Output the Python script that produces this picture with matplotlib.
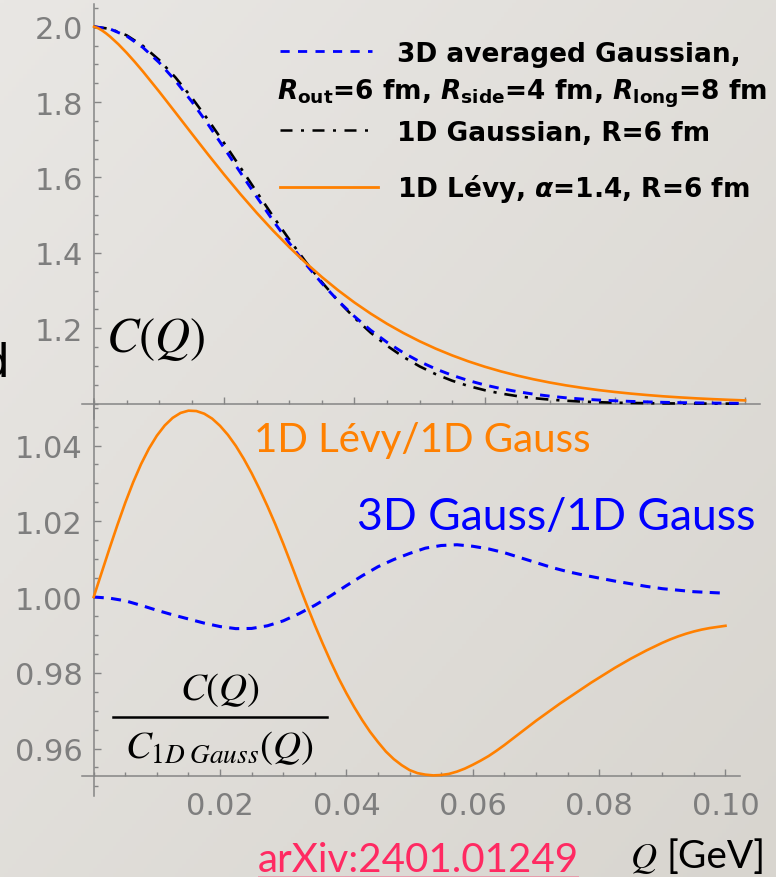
import numpy as np
import matplotlib
matplotlib.use("Agg")
import matplotlib.pyplot as plt
from matplotlib.lines import Line2D
from matplotlib.ticker import FixedLocator, MultipleLocator

plt.rcParams['font.family'] = ['DejaVu Sans']
plt.rcParams['mathtext.fontset'] = 'custom'
plt.rcParams['mathtext.rm'] = 'DejaVu Sans:bold'
plt.rcParams['mathtext.bf'] = 'DejaVu Sans:bold'
plt.rcParams['mathtext.it'] = 'DejaVu Sans:italic:bold'

# ---------------- data ----------------
Q = [0.0, 0.0025, 0.005, 0.0075, 0.01, 0.0125, 0.015, 0.0175, 0.02, 0.0225,
     0.025, 0.0275, 0.03, 0.0325, 0.035, 0.0375, 0.04, 0.0425, 0.045, 0.0475,
     0.05, 0.0525, 0.055, 0.0575, 0.06, 0.0625, 0.065, 0.0675, 0.07, 0.0725,
     0.075, 0.0775, 0.08, 0.0825, 0.085, 0.0875, 0.09, 0.0925, 0.095, 0.0975, 0.1]

C_3d_avg_gauss = [2.0000, 1.9936, 1.9752, 1.9450, 1.9050, 1.8567, 1.8017, 1.7413, 1.6777, 1.6127,
                  1.5482, 1.4856, 1.4261, 1.3706, 1.3193, 1.2729, 1.2315, 1.1949, 1.1630, 1.1353,
                  1.1118, 1.0921, 1.0754, 1.0615, 1.0497, 1.0401, 1.0321, 1.0254, 1.0200, 1.0156,
                  1.0123, 1.0097, 1.0077, 1.0061, 1.0048, 1.0036, 1.0028, 1.0022, 1.0016, 1.0014, 1.0011]

C_1d_gauss = [2.0000, 1.9942, 1.9772, 1.9493, 1.9117, 1.8655, 1.8122, 1.7534, 1.6909, 1.6262,
              1.5612, 1.4970, 1.4352, 1.3766, 1.3222, 1.2725, 1.2278, 1.1883, 1.1538, 1.1242,
              1.0991, 1.0782, 1.0610, 1.0470, 1.0359, 1.0270, 1.0201, 1.0148, 1.0108, 1.0078,
              1.0055, 1.0039, 1.0027, 1.0019, 1.0013, 1.0008, 1.0006, 1.0004, 1.0002, 1.0002, 1.0001]

Q_levy = [0.0, 0.000625, 0.00125, 0.001875, 0.0025, 0.00375, 0.005, 0.00625, 0.0075, 0.01,
          0.0125, 0.015, 0.0175, 0.02, 0.0225, 0.025, 0.0275, 0.03, 0.0325, 0.035,
          0.0375, 0.04, 0.0425, 0.045, 0.0475, 0.05, 0.0525, 0.055, 0.0575, 0.06,
          0.0625, 0.065, 0.0675, 0.07, 0.0725, 0.075, 0.0775, 0.08, 0.0825, 0.085,
          0.0875, 0.09, 0.0925, 0.095, 0.0975, 0.1]

C_1d_levy = [2.0000, 1.9961, 1.9898, 1.9820, 1.9732, 1.9533, 1.9309, 1.9068, 1.8814, 1.8279,
             1.7725, 1.7167, 1.6614, 1.6075, 1.5556, 1.5060, 1.4591, 1.4151, 1.3740, 1.3359,
             1.3007, 1.2684, 1.2389, 1.2120, 1.1877, 1.1657, 1.1459, 1.1282, 1.1123, 1.0982,
             1.0857, 1.0746, 1.0648, 1.0562, 1.0486, 1.0420, 1.0361, 1.0311, 1.0267, 1.0229,
             1.0195, 1.0167, 1.0142, 1.0121, 1.0103, 1.0087]

ratio_3d = [1.0000, 0.9997, 0.9990, 0.9978, 0.9965, 0.9953, 0.9942, 0.9931, 0.9922, 0.99165,
            0.9917, 0.9924, 0.9937, 0.9956, 0.9978, 1.0003, 1.0030, 1.0056, 1.0080, 1.0099,
            1.0115, 1.0129, 1.0136, 1.0138, 1.0134, 1.0127, 1.0117, 1.0104, 1.0091, 1.0078,
            1.0067, 1.0058, 1.0050, 1.0042, 1.0035, 1.0028, 1.0022, 1.0018, 1.0014, 1.0012, 1.0010]

Q_fine = [0.0, 0.00125, 0.0025, 0.00375, 0.005, 0.00625, 0.0075, 0.00875, 0.01, 0.01125,
          0.0125, 0.01375, 0.015, 0.01625, 0.0175, 0.01875, 0.02, 0.02125, 0.0225, 0.02375,
          0.025, 0.02625, 0.0275, 0.02875, 0.03, 0.03125, 0.0325, 0.03375, 0.035, 0.03625,
          0.0375, 0.03875, 0.04, 0.04125, 0.0425, 0.04375, 0.045, 0.04625, 0.0475, 0.04875,
          0.05, 0.05125, 0.0525, 0.05375, 0.055, 0.05625, 0.0575, 0.05875, 0.06, 0.06125,
          0.0625, 0.06375, 0.065, 0.06625, 0.0675, 0.06875, 0.07, 0.07125, 0.0725, 0.07375,
          0.075, 0.07625, 0.0775, 0.07875, 0.08, 0.08125, 0.0825, 0.08375, 0.085, 0.08625,
          0.0875, 0.08875, 0.09, 0.09125, 0.0925, 0.09375, 0.095, 0.09625, 0.0975, 0.09875, 0.1]

ratio_levy = [1.0000, 1.0064, 1.0128, 1.0190, 1.0249, 1.0303, 1.0351, 1.0392, 1.0426, 1.0453,
              1.0473, 1.0486, 1.0492, 1.0491, 1.0484, 1.0471, 1.0452, 1.0428, 1.0399, 1.0365,
              1.0327, 1.0285, 1.0240, 1.0192, 1.0141, 1.0087, 1.0032, 0.9978, 0.9926, 0.9877,
              0.9830, 0.9786, 0.9746, 0.9709, 0.9675, 0.9644, 0.9617, 0.9592, 0.9572, 0.9556,
              0.9543, 0.9535, 0.9531, 0.9529, 0.9530, 0.9533, 0.9539, 0.9547, 0.9557, 0.9568,
              0.9580, 0.9594, 0.9609, 0.9625, 0.9641, 0.9657, 0.9673, 0.9688, 0.9703, 0.9718,
              0.9732, 0.9746, 0.9760, 0.9774, 0.9787, 0.9800, 0.9813, 0.9825, 0.9837, 0.9848,
              0.9859, 0.9869, 0.9879, 0.9888, 0.9896, 0.9903, 0.9909, 0.9914, 0.9918, 0.9921, 0.9924]

top_yticks = [1.2, 1.4, 1.6, 1.8, 2.0]
top_yticklabels = ['1.2', '1.4', '1.6', '1.8', '2.0']
bot_yticks = [0.96, 0.98, 1.00, 1.02, 1.04]
bot_yticklabels = ['0.96', '0.98', '1.00', '1.02', '1.04']
xticks = [0.02, 0.04, 0.06, 0.08, 0.10]
xticklabels = ['0.02', '0.04', '0.06', '0.08', '0.10']

# ---------------- figure ----------------
W, H = 776, 878
fig = plt.figure(figsize=(W / 100, H / 100), dpi=100)

def fx(p):
    return p / W

def fy(p):
    return 1 - p / H

# background gradient (slide)
bg = fig.add_axes([0, 0, 1, 1], zorder=-10)
gy, gx = np.mgrid[0:1:200j, 0:1:200j]
t = (gx + gy) / 2
c0 = np.array([233, 231, 228]) / 255
c1 = np.array([216, 213, 207]) / 255
img = c0[None, None, :] * (1 - t[..., None]) + c1[None, None, :] * t[..., None]
bg.imshow(img, extent=[0, 1, 0, 1], aspect='auto', origin='upper')
bg.axis('off')

BLUE = '#0000ff'
ORANGE = '#ff8000'
SPINE = '#858585'
TICKLAB = '#7e7e7e'

ax1 = fig.add_axes([fx(82), fy(420), 678 / W, 415 / H])
ax2 = fig.add_axes([fx(82), fy(797), 658 / W, 397 / H])

for ax, ylim, yb in [(ax1, (0.9594, 2.0602), 1.0), (ax2, (0.94746, 1.05228), 0.95274)]:
    ax.set_facecolor('none')
    ax.set_xlim(-0.00185, 0.1023)
    ax.set_ylim(*ylim)
    ax.spines['top'].set_visible(False)
    ax.spines['right'].set_visible(False)
    ax.spines['left'].set_position(('data', 0))
    ax.spines['bottom'].set_position(('data', yb))
    for s in ('left', 'bottom'):
        ax.spines[s].set_color(SPINE)
        ax.spines[s].set_linewidth(1.1)
    ax.xaxis.set_major_locator(FixedLocator(xticks))
    ax.xaxis.set_minor_locator(MultipleLocator(0.005))
    ax.tick_params(which='both', direction='in', color=SPINE, width=1.0)
    ax.tick_params(which='major', length=5)
    ax.tick_params(which='minor', length=3)
    ax.tick_params(axis='both', labelsize=22, labelcolor=TICKLAB)
    ax.tick_params(axis='y', pad=8)
    ax.tick_params(axis='x', pad=11)

ax1.set_xticklabels([])
ax1.yaxis.set_major_locator(FixedLocator(top_yticks))
ax1.yaxis.set_minor_locator(MultipleLocator(0.05))
ax1.set_yticklabels(top_yticklabels)

ax2.set_xticklabels(xticklabels)
ax2.yaxis.set_major_locator(FixedLocator(bot_yticks))
ax2.yaxis.set_minor_locator(MultipleLocator(0.005))
ax2.set_yticklabels(bot_yticklabels)

# top panel curves
ax1.plot(Q, C_1d_gauss, color='black', lw=1.9, dashes=(4.8, 3.0, 1.2, 3.0), zorder=3)
ax1.plot(Q, C_3d_avg_gauss, color=BLUE, lw=2.1, dashes=(3.3, 2.6), zorder=4)
ax1.plot(Q_levy, C_1d_levy, color=ORANGE, lw=1.9, zorder=5, solid_joinstyle='round')

# bottom panel curves
ax2.plot(Q, ratio_3d, color=BLUE, lw=2.2, dashes=(3.3, 2.4), zorder=3)
ax2.plot(Q_fine, ratio_levy, color=ORANGE, lw=1.9, zorder=4, solid_joinstyle='round')

# ---------------- legend (manual) ----------------
def leg_line(y, x0, x1, **kw):
    fig.add_artist(Line2D([fx(x0), fx(x1)], [fy(y), fy(y)], **kw))

leg_line(52, 280, 372, color=BLUE, lw=2.0, dashes=(3.3, 3.0))
leg_line(131, 280, 370, color='black', lw=1.8, dashes=(4.8, 3.4, 1.2, 3.4))
leg_line(188, 280, 378, color=ORANGE, lw=2.0)

legkw = dict(fontsize=19, fontweight='bold', color='black', va='baseline', ha='left')
fig.text(fx(397), fy(62), '3D averaged Gaussian,', **legkw)
fig.text(fx(277), fy(100),
         r'$R_{\mathrm{out}}$=6 fm, $R_{\mathrm{side}}$=4 fm, $R_{\mathrm{long}}$=8 fm', **legkw)
fig.text(fx(397), fy(141), '1D Gaussian, R=6 fm', **legkw)
fig.text(fx(397), fy(197), r'1D Lévy, $\alpha$=1.4, R=6 fm', **legkw)

# ---------------- annotations ----------------
fig.text(fx(106), fy(352), r'$C(Q)$', math_fontfamily='stix', fontsize=35,
         ha='left', va='baseline', color='black')
fig.text(fx(220), fy(700), r'$C(Q)$', math_fontfamily='stix', fontsize=28,
         ha='center', va='baseline', color='black')
fig.add_artist(Line2D([fx(113), fx(327)], [fy(718), fy(718)], color='black', lw=1.8))
fig.text(fx(219), fy(758), r'$C_{1D\;Gauss}(Q)$', math_fontfamily='stix', fontsize=28,
         ha='center', va='baseline', color='black')

fig.text(fx(254), fy(452), '1D Lévy/1D Gauss', family='Lato', fontsize=29,
         color=ORANGE, ha='left', va='baseline')
fig.text(fx(357), fy(530), '3D Gauss/1D Gauss', family='Lato', fontsize=32,
         color=BLUE, ha='left', va='baseline')

fig.text(fx(258), fy(872), 'arXiv:2401.01249', family='Lato', fontsize=29,
         color='#ff2a62', ha='left', va='baseline')
fig.add_artist(Line2D([fx(258), fx(578)], [fy(877), fy(877)], color='#ff2a62',
                      lw=0.7, alpha=0.35))
fig.text(fx(630), fy(868), r'$Q$', math_fontfamily='stix', fontsize=26,
         ha='left', va='baseline', color='black')
fig.text(fx(667), fy(868), '[GeV]', family='Lato', fontsize=28,
         ha='left', va='baseline', color='black')

# partially visible slide text at left edge
fig.text(fx(9), fy(377), 'd', fontsize=34, ha='right', va='baseline', color='black')

fig.savefig('out.png', dpi=100)
